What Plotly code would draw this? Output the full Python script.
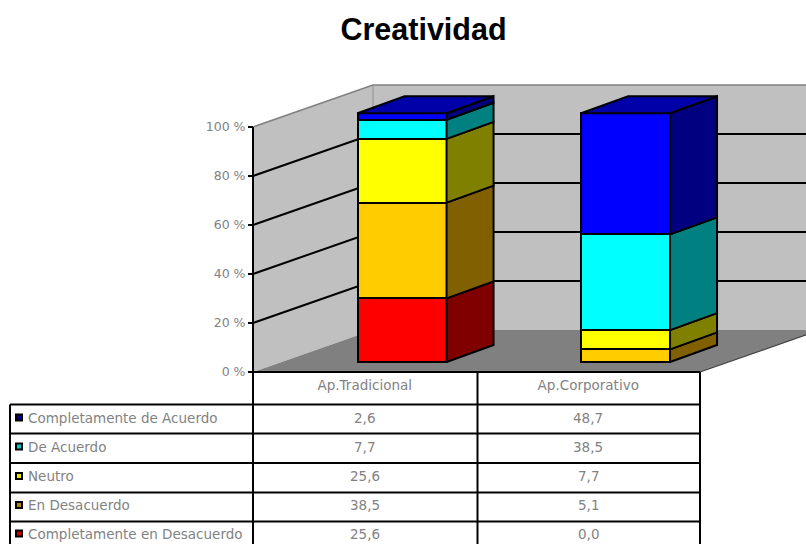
import plotly.graph_objects as go

title = "Creatividad"
categories = ["Ap.Tradicional", "Ap.Corporativo"]
series_names = ["Completamente de Acuerdo", "De Acuerdo", "Neutro", "En Desacuerdo", "Completamente en Desacuerdo"]
tradicional = [2.6, 7.7, 25.6, 38.5, 25.6]
corporativo = [48.7, 38.5, 7.7, 5.1, 0.0]
tick_values = [0, 20, 40, 60, 80, 100]
tick_labels = ["0 %", "20 %", "40 %", "60 %", "80 %", "100 %"]

front_colors = ["#0000ff", "#00ffff", "#ffff00", "#ffcc00", "#ff0000"]
side_colors = ["#000080", "#008080", "#808000", "#806000", "#800000"]
key_colors = ["#000080", "#00c8c8", "#e8e800", "#b08800", "#d00000"]
top_color = "#0000a8"
wall = "#c0c0c0"
floor = "#808080"
text_grey = "#828282"
FONT = "DejaVu Sans"

W, H = 806, 544
X0, CAT_W = 253.0, 223.5
Y0, PCT = 372.0, 2.45
BAR_Y0, BAR_PCT = 362.0, 2.487
DEPTH_X, DEPTH_Y = 120.0, 42.0
BAR_DX, BAR_DY = 47.0, 17.0
BAR_SHIFT, BAR_W = 0.167, 0.398
ROW_LINES = [404.5, 433.5, 463, 492.5, 521.5]
ROW_TEXT = [417.5, 446.5, 476, 505, 533.5]

xr = [-X0 / CAT_W, (W - X0) / CAT_W]
yr = [(Y0 - H) / PCT, Y0 / PCT]
y2r = [(BAR_Y0 - H) / BAR_PCT, BAR_Y0 / BAR_PCT]
du = DEPTH_X / CAT_W
dv = DEPTH_Y / PCT
bdu = BAR_DX / CAT_W
bdv = BAR_DY / BAR_PCT

fig = go.Figure()


def poly(xs, ys, fill, yaxis="y", line=None, lw=0):
    fig.add_trace(go.Scatter(x=xs, y=ys, mode="lines", fill="toself", fillcolor=fill, yaxis=yaxis,
                             line=dict(color=line or fill, width=lw), hoverinfo="skip", showlegend=False))


def line(xs, ys, color="#000000", lw=2):
    fig.add_trace(go.Scatter(x=xs, y=ys, mode="lines", line=dict(color=color, width=lw),
                             hoverinfo="skip", showlegend=False))


# walls and floor
poly([0, 0, du, du], [0, 100, 100 + dv, dv], wall)
poly([du, du, 2 + du, 2 + du], [dv, 100 + dv, 100 + dv, dv], wall)
poly([0, 2, 2 + du, du], [0, 0, dv, dv], floor)
line([0, du, 2 + du], [100, 100 + dv, 100 + dv], "#808080", 1.5)
line([du, du], [dv, 100 + dv], "#909090", 1)
line([2, 2 + du], [0, dv], "#404040", 1.2)

# gridlines
for t in tick_values[1:-1]:
    line([0, du, 2 + du], [t, t + dv, t + dv])
line([0, 0], [0, 100])

# stacked front faces
centers = [0.5 + BAR_SHIFT, 1.5 + BAR_SHIFT]
for i in reversed(range(len(series_names))):
    fig.add_trace(go.Bar(x=centers, y=[tradicional[i], corporativo[i]], width=BAR_W, yaxis="y2",
                         marker=dict(color=front_colors[i], line=dict(color="#000000", width=2)),
                         name=series_names[i], showlegend=False))

# side and top faces
for center, values in zip(centers, [tradicional, corporativo]):
    right = center + BAR_W / 2
    left = center - BAR_W / 2
    base = 0.0
    for i in reversed(range(len(values))):
        v = values[i]
        if v > 0:
            poly([right, right + bdu, right + bdu, right, right],
                 [base, base + bdv, base + v + bdv, base + v, base],
                 side_colors[i], "y2", "#000000", 2)
        base += v
    poly([left, left + bdu, right + bdu, right, left],
         [base, base + bdv, base + bdv, base, base], top_color, "y2", "#000000", 2)


def px(x):
    return x / W


def py(y):
    return 1 - y / H


shapes = []
for ly in ROW_LINES:
    shapes.append(dict(type="line", xref="paper", yref="paper", x0=px(10), x1=px(700), y0=py(ly), y1=py(ly),
                       line=dict(color="#000000", width=2)))
shapes.append(dict(type="line", xref="paper", yref="paper", x0=px(253), x1=px(700), y0=py(372), y1=py(372),
                   line=dict(color="#000000", width=2)))
for vx, top in [(10, 404.5), (253, 372), (477.5, 372), (700, 372)]:
    shapes.append(dict(type="line", xref="paper", yref="paper", x0=px(vx), x1=px(vx), y0=py(top), y1=0,
                       line=dict(color="#000000", width=2)))

ann = []
for name, y, v1, v2 in zip(series_names, ROW_TEXT, tradicional, corporativo):
    ann.append(dict(text=name, xref="paper", yref="paper", x=px(26), y=py(y), xanchor="left", yanchor="middle",
                    showarrow=False, font=dict(family=FONT, size=13.5, color=text_grey)))
    for u, v in [(0.5, v1), (1.5, v2)]:
        ann.append(dict(text=f"{v:.1f}".replace(".", ","), xref="x", yref="paper", x=u, y=py(y),
                        xanchor="center", yanchor="middle", showarrow=False,
                        font=dict(family=FONT, size=13.5, color=text_grey)))

# legend keys
fig.add_trace(go.Scatter(x=[(19 - X0) / CAT_W] * 5, y=[(Y0 - y) / PCT for y in ROW_TEXT], mode="markers",
                         marker=dict(symbol="square", size=6, color=key_colors, line=dict(color="#000000", width=2)),
                         hoverinfo="skip", showlegend=False, cliponaxis=False))

fig.update_layout(
    width=W, height=H, margin=dict(l=0, r=0, t=0, b=0), paper_bgcolor="white", plot_bgcolor="white",
    barmode="stack", showlegend=False,
    title=dict(text=title, x=423.5 / W, xanchor="center", y=1 - 29 / H, yanchor="middle",
               font=dict(family="Liberation Sans", size=30.5, color="#000000", weight="bold")),
    xaxis=dict(range=xr, domain=[0, 1], showgrid=False, zeroline=False, showline=False, anchor="free",
               position=py(375), tickmode="array", tickvals=[0.5, 1.5], ticktext=categories, ticks="",
               tickfont=dict(family=FONT, size=13.5, color=text_grey)),
    yaxis=dict(range=yr, domain=[0, 1], showgrid=False, zeroline=False, showline=False, anchor="free",
               position=px(253), tickmode="array", tickvals=tick_values, ticktext=tick_labels, ticks="outside",
               ticklen=5, tickwidth=2, tickcolor="#000000",
               tickfont=dict(family=FONT, size=12.5, color=text_grey)),
    yaxis2=dict(range=y2r, domain=[0, 1], overlaying="y", visible=False, anchor="x"),
    shapes=shapes, annotations=ann,
)

fig.write_html("out.html", config={"displayModeBar": False}, post_script="document.body.style.margin='0';")
